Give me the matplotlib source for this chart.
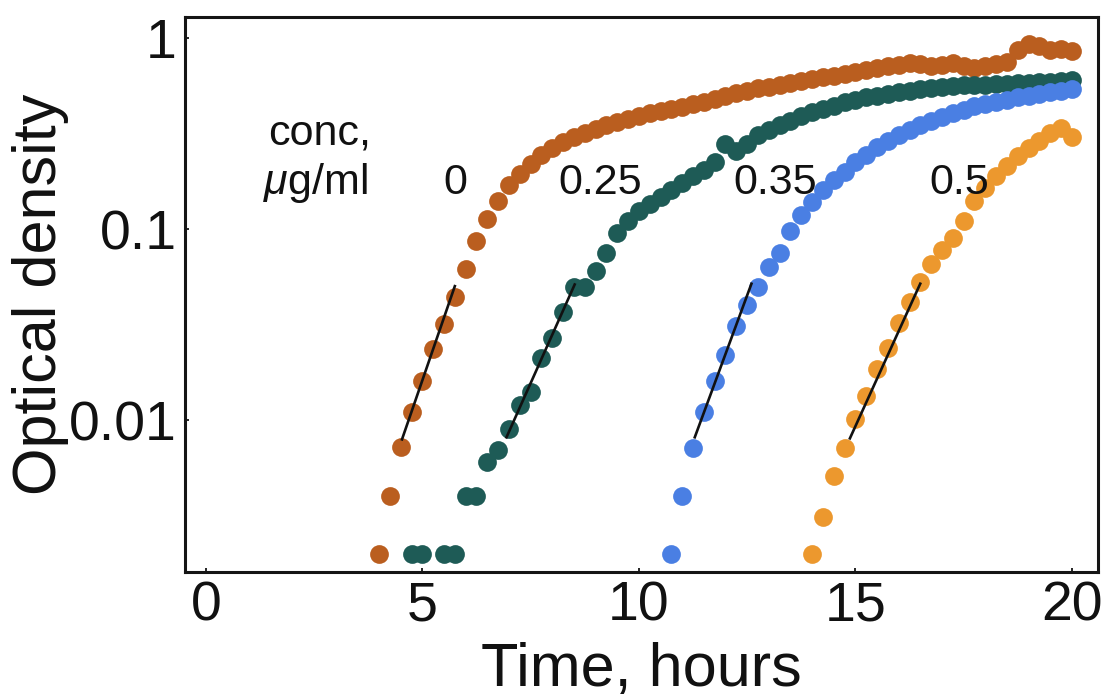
import numpy as np
import matplotlib
matplotlib.use('Agg')
import matplotlib.pyplot as plt

# Growth curves (optical density vs time) at four drug concentrations.
# Readings every 15 minutes.
plt.rcParams['font.family'] = ['Liberation Sans', 'DejaVu Sans']
plt.rcParams['mathtext.fontset'] = 'custom'
plt.rcParams['mathtext.rm'] = 'Liberation Sans'
plt.rcParams['mathtext.it'] = 'Liberation Sans:italic'

step = 0.25  # hours between readings

# conc 0
t0_start = 4.0
od_0 = [0.002, 0.004, 0.0072, 0.011, 0.016, 0.0235, 0.032, 0.044, 0.062,
        0.087, 0.113, 0.14, 0.17, 0.195, 0.22, 0.245, 0.265, 0.285, 0.305,
        0.32, 0.335, 0.35, 0.365, 0.375, 0.39, 0.405, 0.415, 0.425, 0.435,
        0.45, 0.465, 0.48, 0.50, 0.515, 0.53, 0.545, 0.555, 0.57, 0.58,
        0.595, 0.61, 0.625, 0.635, 0.65, 0.665, 0.68, 0.695, 0.71, 0.72,
        0.74, 0.73, 0.71, 0.725, 0.74, 0.715, 0.70, 0.71, 0.73, 0.75,
        0.87, 0.93, 0.91, 0.87, 0.88, 0.86]

# conc 0.25
t25_start = 4.75
od_25 = [0.002, 0.002, 0.001, 0.002, 0.002, 0.004, 0.004, 0.006, 0.007,
         0.009, 0.012, 0.014, 0.021, 0.027, 0.037, 0.050, 0.050, 0.060,
         0.075, 0.095, 0.11, 0.125, 0.135, 0.148, 0.16, 0.175, 0.19, 0.205,
         0.225, 0.28, 0.255, 0.28, 0.31, 0.33, 0.35, 0.37, 0.39, 0.41,
         0.425, 0.44, 0.46, 0.475, 0.49, 0.50, 0.51, 0.52, 0.53, 0.54,
         0.55, 0.555, 0.56, 0.565, 0.57, 0.57, 0.575, 0.575, 0.58, 0.585,
         0.59, 0.59, 0.595, 0.60]

# conc 0.35
t35_start = 10.75
od_35 = [0.002, 0.004, 0.0071, 0.011, 0.016, 0.022, 0.031, 0.040, 0.050,
         0.063, 0.075, 0.098, 0.118, 0.138, 0.16, 0.18, 0.20, 0.225, 0.245,
         0.27, 0.29, 0.31, 0.33, 0.35, 0.37, 0.385, 0.405, 0.42, 0.44,
         0.45, 0.465, 0.475, 0.49, 0.50, 0.51, 0.52, 0.53, 0.54]

# conc 0.5
t5_start = 14.0
od_5 = [0.002, 0.0031, 0.0051, 0.0071, 0.0101, 0.0133, 0.0185, 0.0237,
        0.0324, 0.0417, 0.053, 0.066, 0.078, 0.09, 0.11, 0.14, 0.165, 0.19,
        0.215, 0.24, 0.265, 0.29, 0.32, 0.34, 0.305]

# exponential-phase fits: (t_start, od_start, t_end, od_end)
fits = [(4.52, 0.0078, 5.76, 0.051),
        (6.93, 0.008, 8.53, 0.052),
        (11.28, 0.008, 12.61, 0.0525),
        (14.86, 0.0079, 16.51, 0.0525)]

series = [(t0_start, od_0, '#BA5E1F'),
          (t25_start, od_25, '#1E5B56'),
          (t35_start, od_35, '#4A7FE3'),
          (t5_start, od_5, '#EC982E')]

labels = ['0', '0.25', '0.35', '0.5']
label_x = [5.75, 9.1, 13.14, 17.4]

fig = plt.figure(figsize=(11.16, 6.98), dpi=100)
ax = fig.add_axes([0.1658, 0.1805, 0.818, 0.795])

for start, od, col in series:
  t = start + step * np.arange(len(od))
  ax.plot(t, od, 'o', color=col, markersize=13.5, markeredgewidth=0)

for ts, ys, te, ye in fits:
  ax.plot([ts, te], [ys, ye], color='#111111', lw=1.9, solid_capstyle='butt')

ax.set_yscale('log')
ax.set_xlim(-0.48, 20.6)
ax.set_ylim(0.0016, 1.288)
ax.set_xticks([0, 5, 10, 15, 20])
ax.set_yticks([0.01, 0.1, 1])
ax.set_yticklabels(['0.01', '0.1', '1'])
ax.minorticks_off()
ax.tick_params(direction='in', length=3, width=1.2, labelsize=40, pad=6,
               labelcolor='#111111')
for s in ax.spines.values():
  s.set_linewidth(2.2)
  s.set_color('#151515')

ax.set_xlabel('Time, hours', fontsize=44, labelpad=7, color='#111111')
ax.set_ylabel('Optical density', fontsize=44, labelpad=0, color='#111111')

ax.text(1.43, 0.318, 'conc,', fontsize=31, ha='left', va='center', color='#111111')
ax.text(1.32, 0.174, r'$\mu$g/ml', fontsize=31, ha='left', va='center', color='#111111')
for lab, x in zip(labels, label_x):
  ax.text(x, 0.174, lab, fontsize=31, ha='center', va='center', color='#111111')

fig.savefig('out.png', dpi=100)
